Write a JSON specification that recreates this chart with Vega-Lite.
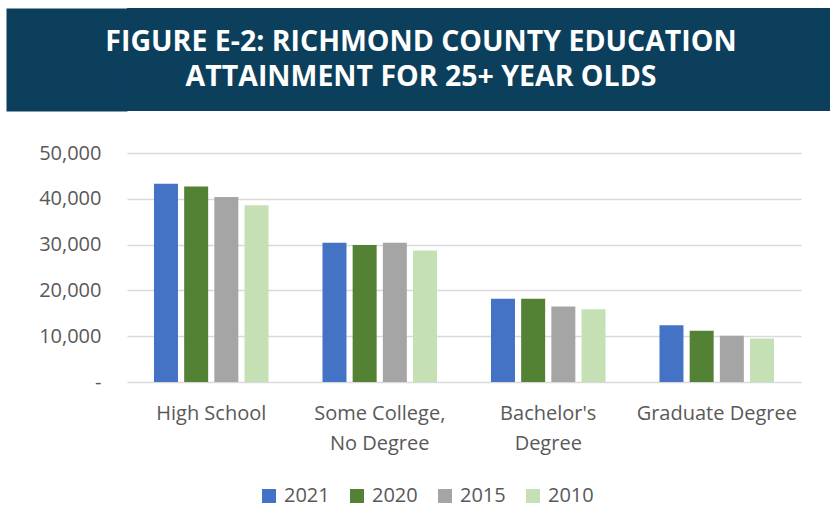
{
  "$schema": "https://vega.github.io/schema/vega-lite/v6.json",
  "background": "white",
  "padding": {"left": 21, "top": 8, "right": 0, "bottom": 14},
  "config": {
    "view": {"stroke": null},
    "font": "Open Sans",
    "legend": {"layout": {"bottom": {"anchor": "middle"}}}
  },
  "datasets": {
    "titleLines": [
      {"order": 1, "line": "FIGURE E-2: RICHMOND COUNTY EDUCATION"},
      {"order": 2, "line": "ATTAINMENT FOR 25+ YEAR OLDS"}
    ],
    "education": [
      {"level": "High School", "year": "2021", "people": 43300},
      {"level": "High School", "year": "2020", "people": 42700},
      {"level": "High School", "year": "2015", "people": 40400},
      {"level": "High School", "year": "2010", "people": 38600},
      {"level": "Some College, No Degree", "year": "2021", "people": 30400},
      {"level": "Some College, No Degree", "year": "2020", "people": 29900},
      {"level": "Some College, No Degree", "year": "2015", "people": 30400},
      {"level": "Some College, No Degree", "year": "2010", "people": 28700},
      {"level": "Bachelor's Degree", "year": "2021", "people": 18200},
      {"level": "Bachelor's Degree", "year": "2020", "people": 18200},
      {"level": "Bachelor's Degree", "year": "2015", "people": 16500},
      {"level": "Bachelor's Degree", "year": "2010", "people": 15900},
      {"level": "Graduate Degree", "year": "2021", "people": 12400},
      {"level": "Graduate Degree", "year": "2020", "people": 11200},
      {"level": "Graduate Degree", "year": "2015", "people": 10100},
      {"level": "Graduate Degree", "year": "2010", "people": 9500}
    ]
  },
  "spacing": 32,
  "vconcat": [
    {
      "width": 704,
      "height": 103,
      "view": {"fill": "#0b3f5c", "stroke": null},
      "data": {"name": "titleLines"},
      "mark": {"type": "text", "color": "white", "font": "Open Sans", "fontWeight": "bold", "fontSize": 28.5, "baseline": "middle", "align": "center", "dx": -58},
      "encoding": {
        "y": {
          "field": "order",
          "type": "ordinal",
          "scale": {"type": "point", "padding": 0.95},
          "axis": {"title": null, "labels": false, "ticks": false, "grid": false, "domain": true, "domainColor": "#0b3f5c", "domainWidth": 121, "domainCap": "butt", "offset": 60.5}
        },
        "text": {"field": "line"}
      }
    },
    {
      "width": 674,
      "height": 229,
      "data": {"name": "education"},
      "mark": {"type": "bar"},
      "encoding": {
        "x": {
          "field": "level",
          "type": "nominal",
          "sort": ["High School", "Some College, No Degree", "Bachelor's Degree", "Graduate Degree"],
          "scale": {"paddingInner": 0, "paddingOuter": 0},
          "axis": {
            "title": null, "domain": false, "ticks": false, "tickSize": 0, "labelAngle": 0,
            "labelFont": "Open Sans", "labelFontSize": 20, "labelColor": "#595959",
            "labelPadding": 21, "labelLineHeight": 30, "labelOverlap": false, "labelLimit": 300,
            "labelExpr": "datum.value == 'Some College, No Degree' ? ['Some College,', 'No Degree'] : datum.value == \"Bachelor's Degree\" ? [\"Bachelor's\", 'Degree'] : datum.label"
          }
        },
        "xOffset": {
          "field": "year",
          "type": "nominal",
          "sort": ["2021", "2020", "2015", "2010"],
          "scale": {"paddingInner": 0.205, "paddingOuter": 0.894}
        },
        "y": {
          "field": "people",
          "type": "quantitative",
          "scale": {"domain": [0, 50000], "nice": false},
          "axis": {
            "title": "\u00a0", "titleFontSize": 1, "titlePadding": 16,
            "domain": false, "ticks": false, "tickSize": 0,
            "values": [0, 10000, 20000, 30000, 40000, 50000],
            "grid": true, "gridColor": "#d9d9d9", "gridWidth": 1.5,
            "labelFont": "Open Sans", "labelFontSize": 20, "labelColor": "#595959", "labelPadding": 26,
            "labelExpr": "datum.value == 0 ? '-\u00a0\u00a0' : format(datum.value, ',')"
          }
        },
        "color": {
          "field": "year",
          "type": "nominal",
          "sort": ["2021", "2020", "2015", "2010"],
          "scale": {"domain": ["2021", "2020", "2015", "2010"], "range": ["#4472c4", "#548235", "#a5a5a5", "#c5e0b4"]},
          "legend": {
            "title": null, "orient": "bottom", "direction": "horizontal",
            "symbolType": "square", "symbolSize": 196, "symbolStrokeWidth": 0,
            "labelFont": "Open Sans", "labelFontSize": 20, "labelColor": "#595959",
            "labelOffset": 5, "columnPadding": 17, "offset": 33
          }
        }
      }
    }
  ]
}
